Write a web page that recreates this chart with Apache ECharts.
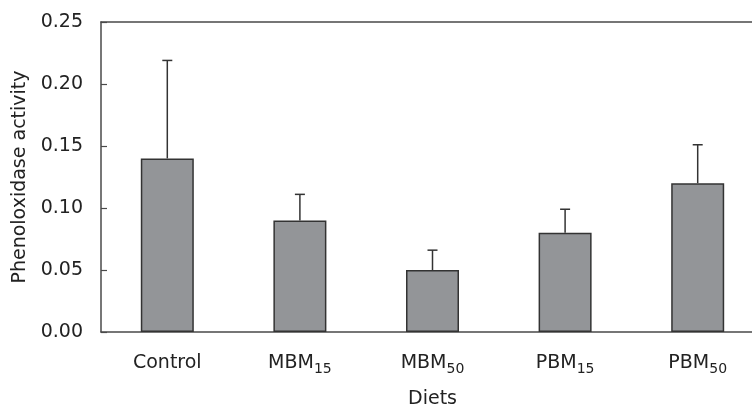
<!DOCTYPE html>
<html>
<head>
<meta charset="utf-8">
<script src="https://cdn.jsdelivr.net/npm/echarts@6/dist/echarts.min.js"></script>
<style>
  html, body { margin: 0; padding: 0; background: #fff; overflow: hidden; }
  #chart { width: 752px; height: 406px; }
</style>
</head>
<body>
<div id="chart"></div>
<script>
// Diet groups (trailing digits are shown as a subscript)
const categories = ['Control', 'MBM15', 'MBM50', 'PBM15', 'PBM50'];
// Mean phenoloxidase activity per diet
const means = [0.14, 0.09, 0.05, 0.08, 0.12];
// Standard deviation (drawn as an upper error bar)
const sd = [0.079, 0.021, 0.016, 0.019, 0.031];
// Y axis tick values
const yTicks = [0, 0.05, 0.10, 0.15, 0.20, 0.25];

const FONT = 'DejaVu Sans';
const TEXT = '#222';
const LINE = '#4a4a4a';

function diet(label) {
  const m = label.match(/^([A-Za-z]+)(\d*)$/);
  return m[2] ? '{m|' + m[1] + '}{s|' + m[2] + '}' : '{m|' + m[1] + '}';
}

const chart = echarts.init(document.getElementById('chart'), null, { renderer: 'canvas' });

chart.setOption({
  animation: false,
  backgroundColor: '#fff',
  // the plot runs a little past the right edge of the canvas
  grid: { left: 101, top: 22, bottom: 74, width: 663, containLabel: false, outerBoundsMode: 'none' },
  xAxis: [{
    type: 'category',
    data: categories,
    position: 'bottom',
    axisLine: { lineStyle: { color: LINE, width: 1.5 } },
    axisTick: { inside: true, length: 6, lineStyle: { color: LINE, width: 1.2 } },
    axisLabel: {
      margin: 17,
      color: TEXT,
      formatter: diet,
      rich: {
        m: { fontFamily: FONT, fontSize: 19, color: TEXT, lineHeight: 28 },
        s: { fontFamily: FONT, fontSize: 14, color: TEXT, padding: [13, 0, 0, 0] }
      }
    },
    name: 'Diets',
    nameLocation: 'middle',
    nameGap: 58,
    nameTextStyle: { fontFamily: FONT, fontSize: 19, color: TEXT }
  }, {
    type: 'category',
    data: categories,
    position: 'top',
    axisLine: { lineStyle: { color: LINE, width: 1.5 } },
    axisTick: { show: false },
    axisLabel: { show: false }
  }],
  yAxis: {
    type: 'value',
    min: yTicks[0],
    max: yTicks[yTicks.length - 1],
    interval: yTicks[1] - yTicks[0],
    axisLine: { show: true, lineStyle: { color: LINE, width: 1.5 } },
    axisTick: { show: true, inside: true, length: 6, lineStyle: { color: LINE, width: 1.2 } },
    splitLine: { show: false },
    axisLabel: {
      margin: 18,
      fontFamily: FONT,
      fontSize: 19,
      color: TEXT,
      formatter: v => v.toFixed(2)
    },
    name: 'Phenoloxidase activity',
    nameLocation: 'middle',
    nameGap: 70,
    nameTextStyle: { fontFamily: FONT, fontSize: 19, color: TEXT }
  },
  series: [{
    type: 'bar',
    data: means,
    barWidth: 53,
    itemStyle: { color: '#939598', borderColor: '#333', borderWidth: 1.5 }
  }, {
    type: 'custom',
    data: means.map((m, i) => [i, m, m + sd[i]]),
    z: 3,
    renderItem: function (params, api) {
      const i = api.value(0);
      const base = api.coord([i, api.value(1)]);
      const top = api.coord([i, api.value(2)]);
      const half = 5;
      const style = { stroke: '#333', lineWidth: 1.5 };
      return {
        type: 'group',
        children: [
          { type: 'line', shape: { x1: base[0], y1: base[1], x2: top[0], y2: top[1] }, style: style },
          { type: 'line', shape: { x1: top[0] - half, y1: top[1], x2: top[0] + half, y2: top[1] }, style: style }
        ]
      };
    }
  }]
});
</script>
</body>
</html>
